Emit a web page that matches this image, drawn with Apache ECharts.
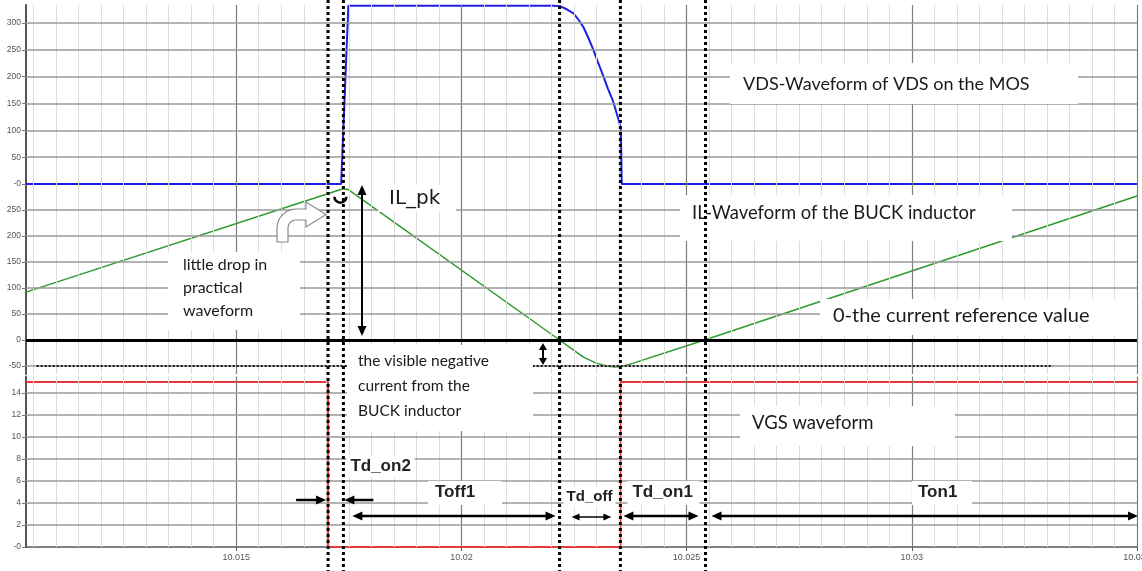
<!DOCTYPE html>
<html><head><meta charset="utf-8">
<script src="https://cdn.jsdelivr.net/npm/echarts@6/dist/echarts.min.js"></script>
<style>html,body{margin:0;padding:0;background:#fff}#c{width:1142px;height:571px}</style>
</head><body><div id="c"></div>
<script>
// ---- data ----
const X_MIN = 10.010333, X_MAX = 10.035;
const xMajorTicks = [10.015, 10.02, 10.025, 10.03, 10.035];
const vdsTicks = [0, 50, 100, 150, 200, 250, 300];
const ilTicks = [-50, 0, 50, 100, 150, 200, 250];
const vgsTicks = [0, 2, 4, 6, 8, 10, 12, 14];

const vdsX = [10.010333, 10.01733, 10.01749, 10.02204, 10.0222, 10.02233, 10.02249, 10.0226, 10.02271, 10.02282, 10.02293, 10.02304, 10.02316, 10.02325, 10.02336, 10.02351, 10.02354, 10.02356, 10.035];
const vdsY = [0, 0, 332, 332, 331, 326, 318, 306, 292, 272, 250, 225, 199, 178, 156, 114, 100, 0, 0];

const ilX = [10.010333, 10.01727, 10.01738, 10.01749, 10.02218, 10.02242, 10.02271, 10.02298, 10.02322, 10.0234, 10.02356, 10.0238, 10.0254, 10.035];
const ilY = [92, 288, 291, 289, 0, -15, -33, -44, -50, -52, -51, -45, 0, 277];

const vgsX = [10.010333, 10.01704, 10.01704, 10.02353, 10.02353, 10.035];
const vgsY = [15, 15, 0, 0, 15, 15];

const eventTimes = [10.01704, 10.01738, 10.02218, 10.02353, 10.02542];
const negRefLevel = -50;
const negRefRange = [10.01057, 10.03313];

// ---- chart ----
const chart = echarts.init(document.getElementById('c'), null, {renderer: 'canvas'});
const zip = (xs, ys) => xs.map((x, i) => [x, ys[i]]);
const yRanges = [[0, 333.5], [-65.4, 300], [0, 15.5]];

function vGrid(i) {
  const d = [];
  const yr = yRanges[i];
  for (let k = 0; k <= 49; k++) {
    const v = +(10.0105 + k * 0.0005).toFixed(4);
    if (v > X_MAX + 1e-9) break;
    const major = xMajorTicks.some(m => Math.abs(m - v) < 1e-7);
    d.push([{coord: [v, yr[0]]}, {coord: [v, yr[1]],
      lineStyle: {color: major ? '#7d7d7d' : '#dcdcdc', width: major ? 1.2 : 1, type: 'solid'}}]);
  }
  return d;
}
function hGrid(ticks) {
  return ticks.map(v => [{coord: [X_MIN, v]}, {coord: [X_MAX, v], lineStyle: {color: '#9a9a9a', width: 1.5, type: 'solid'}}]);
}
function gridSeries(i, ticks) {
  return {
    type: 'line', data: [], xAxisIndex: i, yAxisIndex: i, z: 1, silent: true,
    markLine: {silent: true, symbol: 'none', label: {show: false}, animation: false,
      emphasis: {disabled: true}, data: vGrid(i).concat(hGrid(ticks))}
  };
}
const lblFont = {fontFamily: 'Liberation Sans, Arial', fontSize: 8.5, color: '#555'};
function xAxisOpt(i, showLabels) {
  return {
    type: 'value', gridIndex: i, min: X_MIN, max: X_MAX,
    splitLine: {show: false},
    axisLine: {show: showLabels, onZero: false, lineStyle: {color: '#555', width: 1.5}},
    axisTick: {show: showLabels, customValues: xMajorTicks, length: 4, lineStyle: {color: '#555'}},
    axisLabel: {show: showLabels, customValues: xMajorTicks, margin: 6, fontSize: 9,
      fontFamily: lblFont.fontFamily, color: '#555', formatter: v => String(+v.toFixed(3))}
  };
}
function yAxisOpt(i, ticks, zeroTxt) {
  return {
    type: 'value', gridIndex: i, min: yRanges[i][0], max: yRanges[i][1],
    splitLine: {show: false},
    axisLine: {show: true, onZero: false, lineStyle: {color: '#555', width: 2}},
    axisTick: {show: true, customValues: ticks, length: 4, lineStyle: {color: '#777'}},
    axisLabel: Object.assign({customValues: ticks, margin: 5, showMaxLabel: true, showMinLabel: true,
      formatter: v => (v === 0 ? zeroTxt : String(v))}, lblFont)
  };
}

const option = {
  animation: false,
  backgroundColor: '#fff',
  grid: [
    {left: 26, right: 5, top: 5, height: 179, outerBoundsMode: 'none', containLabel: false},
    {left: 26, right: 5, top: 184, height: 190, outerBoundsMode: 'none', containLabel: false},
    {left: 26, right: 5, top: 376.5, height: 170.5, outerBoundsMode: 'none', containLabel: false}
  ],
  xAxis: [xAxisOpt(0, false), xAxisOpt(1, false), xAxisOpt(2, true)],
  yAxis: [yAxisOpt(0, vdsTicks, '-0'), yAxisOpt(1, ilTicks, '0'), yAxisOpt(2, vgsTicks, '-0')],
  series: [
    gridSeries(0, vdsTicks.filter(v => v !== 0)),
    gridSeries(1, ilTicks.filter(v => v !== 0)),
    gridSeries(2, vgsTicks.filter(v => v !== 0)),
    {
      type: 'line', data: [], xAxisIndex: 1, yAxisIndex: 1, z: 2, silent: true,
      markLine: {silent: true, symbol: 'none', label: {show: false}, emphasis: {disabled: true},
        data: [
          [{coord: [X_MIN, 0]}, {coord: [X_MAX, 0], lineStyle: {color: '#000', width: 3, type: 'solid'}}],
          [{coord: [negRefRange[0], negRefLevel]}, {coord: [negRefRange[1], negRefLevel],
            lineStyle: {color: '#111', width: 2, type: [2, 2]}}]
        ]}
    },
    {name: 'VDS', type: 'line', xAxisIndex: 0, yAxisIndex: 0, data: zip(vdsX, vdsY), showSymbol: false, z: 4,
      lineStyle: {color: '#1f1fe6', width: 2}, itemStyle: {color: '#1f1fe6'}},
    {name: 'IL', type: 'line', xAxisIndex: 1, yAxisIndex: 1, data: zip(ilX, ilY), showSymbol: false, z: 4,
      lineStyle: {color: '#2e9a2e', width: 1.5}, itemStyle: {color: '#2e9a2e'}},
    {name: 'VGS', type: 'line', xAxisIndex: 2, yAxisIndex: 2, data: zip(vgsX, vgsY), showSymbol: false, z: 4,
      lineStyle: {color: '#e8383a', width: 2}, itemStyle: {color: '#e8383a'}}
  ]
};
chart.setOption(option);

// ---- annotations ----
const px = t => chart.convertToPixel({xAxisIndex: 2}, t);
const ev = eventTimes.map(px);
const G = [];
const Z = 50;
const txtFont = 'Lato, "Open Sans", sans-serif';

ev.forEach(x => {
  G.push({type: 'line', z: Z + 5, silent: true, shape: {x1: x, y1: 0, x2: x, y2: 571},
    style: {stroke: '#000', lineWidth: 3, lineDash: [3, 3]}});
});

function box(x, y, w, h) {
  G.push({type: 'rect', z: Z, silent: true, shape: {x: x, y: y, width: w, height: h}, style: {fill: '#fff'}});
}
function text(str, x, y, size, opts) {
  opts = opts || {};
  G.push({type: 'text', z: Z + 2, silent: true, x: x, y: y,
    style: {text: str, fill: opts.color || '#1a1a1a', font: (opts.weight || 'normal') + ' ' + size + 'px ' + (opts.family || txtFont),
      textVerticalAlign: 'middle', textAlign: 'left', lineHeight: opts.lh || size * 1.3}});
}
function arrow(x1, y1, x2, y2, w, hl, hw, heads) {
  const a = Math.atan2(y2 - y1, x2 - x1), c = Math.cos(a), s = Math.sin(a);
  let sx = x1, sy = y1, ex = x2, ey = y2;
  if (heads === 'end' || heads === 'both') { ex -= c * hl * 0.8; ey -= s * hl * 0.8; }
  if (heads === 'start' || heads === 'both') { sx += c * hl * 0.8; sy += s * hl * 0.8; }
  G.push({type: 'line', z: Z + 3, silent: true, shape: {x1: sx, y1: sy, x2: ex, y2: ey}, style: {stroke: '#000', lineWidth: w}});
  const head = (tx, ty, cc, ss) => G.push({type: 'polygon', z: Z + 3, silent: true,
    shape: {points: [[tx, ty], [tx - hl * cc + hw * ss, ty - hl * ss - hw * cc], [tx - hl * cc - hw * ss, ty - hl * ss + hw * cc]]},
    style: {fill: '#000'}});
  if (heads === 'end' || heads === 'both') head(x2, y2, c, s);
  if (heads === 'start' || heads === 'both') head(x1, y1, -c, -s);
}

// text boxes
box(730, 63, 348, 41); text('VDS-Waveform of VDS on the MOS', 743, 84, 18);
box(378, 185, 78, 27); text('IL_pk', 389, 199, 20, {family: '"DejaVu Sans", sans-serif'});
box(680, 195, 332, 46); text('IL-Waveform of the BUCK inductor', 692, 213, 18.4);
box(168, 252, 132, 78); text('little drop in\npractical\nwaveform', 183, 288, 16, {lh: 23});
box(820, 299, 317, 36); text('0-the current reference value', 833, 316, 20);
box(347, 345, 186, 86); text('the visible negative\ncurrent from the\nBUCK inductor', 358, 386, 15.5, {lh: 25});
box(740, 406, 215, 40); text('VGS waveform', 752, 423, 18.5);

const bf = '"Liberation Sans", Arial, sans-serif';
box(ev[1] + 3, 456, 68, 22); text('Td_on2', ev[1] + 7, 466, 17, {weight: 'bold', family: bf, color: '#222'});
box(428, 481, 74, 24); text('Toff1', 435, 492, 17, {weight: 'bold', family: bf, color: '#222'});
box(ev[2] + 4, 487, 52, 20); text('Td_off', ev[2] + 7, 497, 15, {weight: 'bold', family: bf, color: '#222'});
box(ev[3] + 7, 481, 72, 24); text('Td_on1', ev[3] + 12, 492, 17, {weight: 'bold', family: bf, color: '#222'});
box(912, 481, 60, 24); text('Ton1', 918, 492, 17, {weight: 'bold', family: bf, color: '#222'});

// arrows
arrow(ev[0] - 32, 500, ev[0] - 2, 500, 2.5, 10, 4.5, 'end');
arrow(ev[1] + 30, 500, ev[1] + 1, 500, 2.5, 10, 4.5, 'end');
arrow(ev[1] + 9, 516, ev[2] - 4, 516, 2.5, 10, 4.5, 'both');
arrow(ev[2] + 12, 517, ev[3] - 9, 517, 1.5, 8, 3.5, 'both');
arrow(ev[3] + 3, 516, ev[4] - 7, 516, 2.5, 10, 4.5, 'both');
arrow(ev[4] + 6, 516, 1138, 516, 2.5, 10, 4.5, 'both');
arrow(362, 185, 362, 336, 2, 10, 4.5, 'both');
arrow(543, 343, 543, 365, 2, 7, 4, 'both');

// little drop marker
const pk = chart.convertToPixel({gridIndex: 1}, [ilX[2], ilY[2]]);
G.push({type: 'arc', z: Z + 4, silent: true, shape: {cx: pk[0] - 3, cy: pk[1] + 8, r: 6, startAngle: 0, endAngle: Math.PI, clockwise: true},
  style: {stroke: '#000', lineWidth: 2.5, fill: null}});

// curved arrow icon
(function () {
  const pts = [[277, 242], [277, 228]];
  const cx = 296, cy = 228;
  for (let k = 1; k <= 6; k++) { const a = Math.PI + k * Math.PI / 12; pts.push([cx + 19 * Math.cos(a), cy + 19 * Math.sin(a)]); }
  pts.push([306, 209], [306, 202], [326, 214.5], [306, 227], [306, 220], [296, 220]);
  for (let k = 1; k <= 6; k++) { const a = 1.5 * Math.PI - k * Math.PI / 12; pts.push([cx + 8 * Math.cos(a), cy + 8 * Math.sin(a)]); }
  pts.push([288, 242]);
  G.push({type: 'polygon', z: Z + 1, silent: true, shape: {points: pts}, style: {fill: '#fff', stroke: '#8a8a8a', lineWidth: 1.2}});
})();

chart.setOption({graphic: {elements: G}});
</script>
</body></html>
